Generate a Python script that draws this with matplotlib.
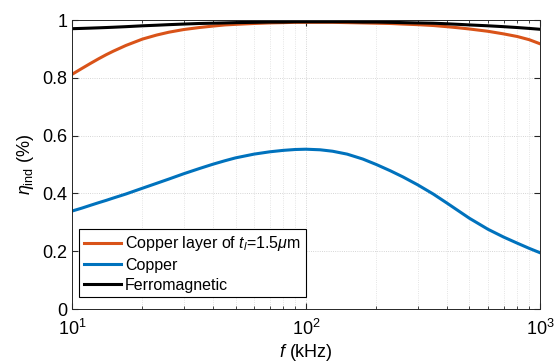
import matplotlib
matplotlib.use('Agg')
import matplotlib.pyplot as plt
from matplotlib.ticker import NullFormatter

plt.rcParams['font.family'] = ['Liberation Sans', 'DejaVu Sans']
plt.rcParams['mathtext.fontset'] = 'custom'
plt.rcParams['mathtext.rm'] = 'Liberation Sans'
plt.rcParams['mathtext.it'] = 'Liberation Sans:italic'

# values
freq_khz = [10, 11, 12, 13, 14, 15, 17, 20, 23, 26, 30, 35, 40, 45, 50, 60,
            70, 80, 90, 100, 115, 130, 150, 175, 200, 230, 260, 300, 350,
            400, 450, 500, 600, 700, 800, 900, 1000]
eta_layer = [0.812, 0.832, 0.850, 0.866, 0.880, 0.892, 0.912, 0.934, 0.948,
             0.958, 0.967, 0.974, 0.979, 0.983, 0.985, 0.988, 0.990, 0.991,
             0.992, 0.992, 0.992, 0.992, 0.991, 0.990, 0.989, 0.988, 0.986,
             0.984, 0.981, 0.977, 0.973, 0.969, 0.961, 0.952, 0.943, 0.932,
             0.918]
eta_copper = [0.339, 0.349, 0.359, 0.368, 0.376, 0.384, 0.398, 0.418, 0.435,
              0.450, 0.468, 0.486, 0.501, 0.513, 0.523, 0.536, 0.544, 0.549,
              0.552, 0.553, 0.551, 0.546, 0.536, 0.519, 0.500, 0.478, 0.457,
              0.430, 0.398, 0.367, 0.339, 0.314, 0.276, 0.249, 0.228, 0.210,
              0.195]
eta_ferro = [0.970, 0.971, 0.972, 0.973, 0.974, 0.975, 0.977, 0.980, 0.982,
             0.984, 0.986, 0.988, 0.989, 0.990, 0.991, 0.992, 0.993, 0.993,
             0.994, 0.994, 0.994, 0.994, 0.994, 0.993, 0.993, 0.992, 0.991,
             0.990, 0.989, 0.987, 0.985, 0.983, 0.980, 0.977, 0.974, 0.971,
             0.968]
labels = [r'Copper layer of $t_l$=1.5$\mu$m', 'Copper', 'Ferromagnetic']
colors = ['#D95319', '#0072BD', 'black']

fig = plt.figure(figsize=(5.56, 3.64), dpi=100)
ax = fig.add_axes([0.1295, 0.151, 0.8415, 0.794])

for y, lab, c in zip([eta_layer, eta_copper, eta_ferro], labels, colors):
    ax.plot(freq_khz, y, color=c, lw=2.2, label=lab, solid_joinstyle='round')

ax.set_xscale('log')
ax.set_xlim(10, 1000)
ax.set_ylim(0, 1)
ax.set_yticks([0, 0.2, 0.4, 0.6, 0.8, 1])
ax.set_yticklabels(['0', '0.2', '0.4', '0.6', '0.8', '1'])
ax.xaxis.set_minor_formatter(NullFormatter())

ax.grid(True, which='major', ls=':', color='#c8c8c8', lw=0.6)
ax.grid(True, which='minor', ls=':', color='#dcdcdc', lw=0.6)
ax.tick_params(which='both', direction='in', top=True, right=True,
               labelsize=13, color='#262626')
ax.tick_params(which='major', length=4)
ax.tick_params(which='minor', length=2)
ax.tick_params(axis='x', pad=7)
for sp in ax.spines.values():
    sp.set_color('#262626')
    sp.set_linewidth(0.7)

ax.set_xlabel(r'$f$ (kHz)', fontsize=13, labelpad=2)
ax.set_ylabel(r'$\eta_{\rm ind}$ (%)', fontsize=13, labelpad=4)

leg = ax.legend(loc='lower left', bbox_to_anchor=(0.016, 0.04),
                fontsize=11.5, fancybox=False, framealpha=1,
                edgecolor='black', handlelength=2.3, handletextpad=0.25,
                labelspacing=0.3, borderpad=0.3, borderaxespad=0)
leg.get_frame().set_linewidth(0.8)

fig.savefig('out.png', dpi=100)
